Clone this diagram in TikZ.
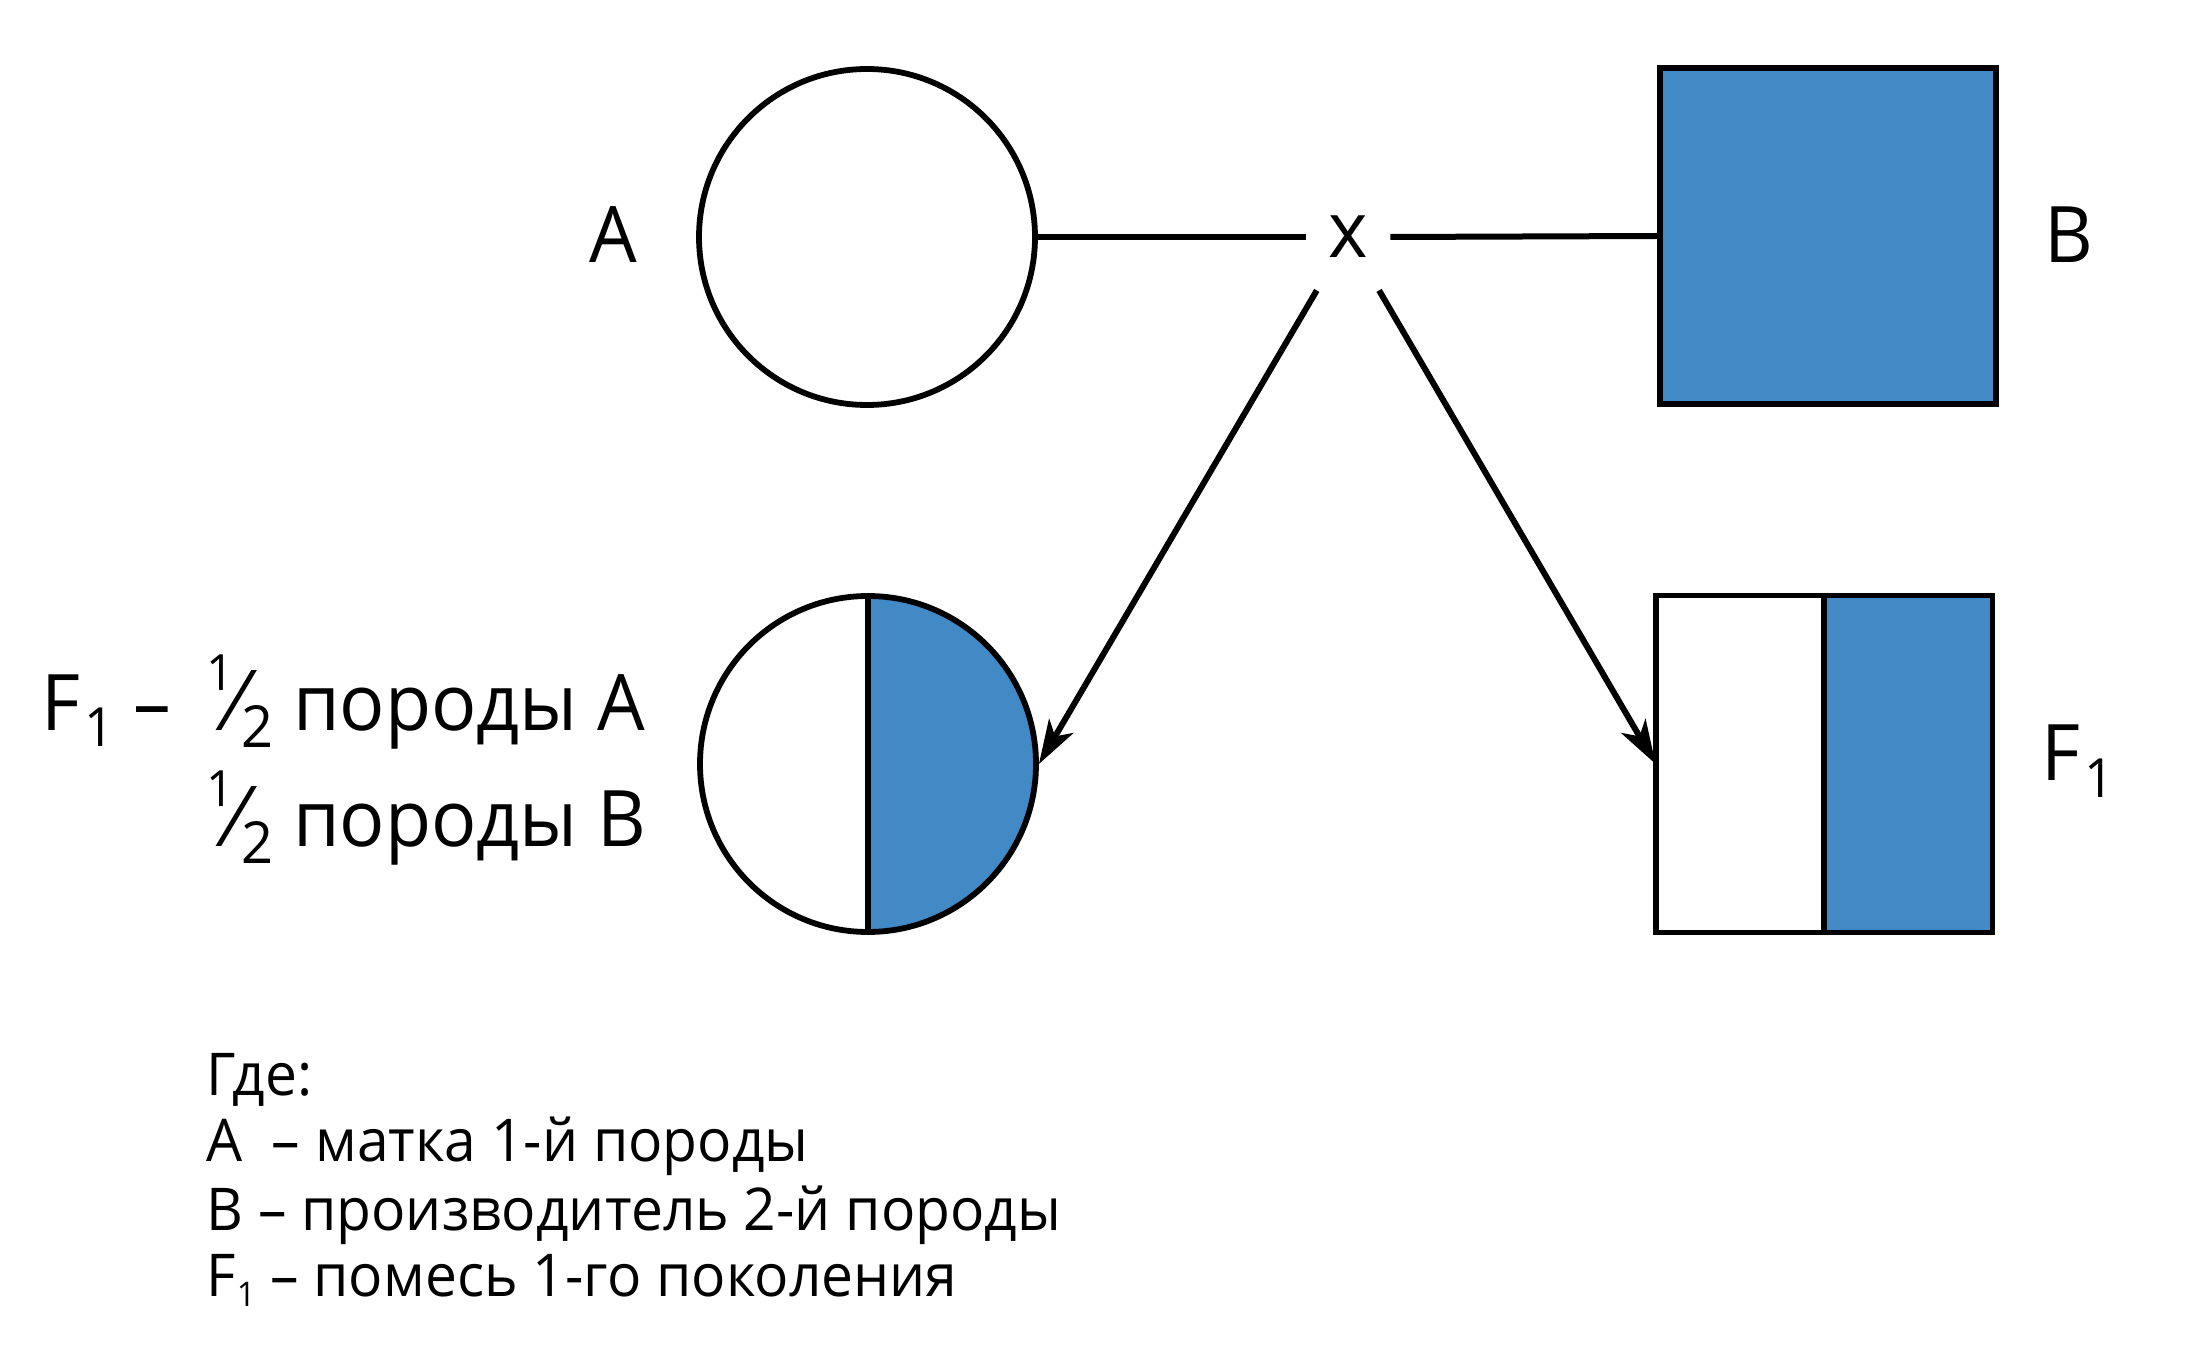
\documentclass[tikz,border=0pt]{standalone}
\usepackage{fontspec}
\setmainfont{Open Sans}[FakeStretch=0.965]
\usetikzlibrary{arrows.meta}
\definecolor{fillblue}{RGB}{66,138,198}
\newcommand\halfsym{\raisebox{20pt}{\fontsize{25}{25}\selectfont 1}\kern-1pt{\fontsize{42}{42}\selectfont ⁄}\kern-0.5pt\raisebox{-8.5pt}{\fontsize{29}{29}\selectfont 2}}
\newcommand\bigsub[1]{\kern2pt\raisebox{-8.5pt}{\fontsize{27}{27}\selectfont #1}}
\newcommand\smallsub[1]{\kern0.5pt\raisebox{-5pt}{\fontsize{17}{17}\selectfont #1}}
\begin{document}
\begin{tikzpicture}[x=0.5pt,y=-0.5pt,
  shape line/.style={draw=black,line width=2.9pt},
  roundbox/.style={circle,minimum size=168pt,inner sep=0pt},
  squarebox/.style={rectangle,minimum width=168pt,minimum height=168pt,inner sep=0pt},
  biglabel/.style={font=\fontsize{39}{44}\selectfont,inner sep=0pt},
  legendtext/.style={font=\fontsize{29.5}{34}\selectfont,inner sep=0pt,anchor=base west},
  connector/.style={line width=3pt},
  arrowline/.style={line width=3pt,-{Stealth[length=22pt,width=14pt,inset=6pt]}}]
\useasboundingbox (0,0) rectangle (2185,1352);

% parents
\node[roundbox,shape line] (A) at (867,237) {};
\node[squarebox,shape line,fill=fillblue] (B) at (1828,236) {};
\node[biglabel] (Alab) at (613,235) {А};
\node[biglabel] (Blab) at (2069,235) {В};

% cross sign
\node[rectangle,minimum width=42pt,minimum height=53pt,inner sep=0pt,font=\fontsize{39}{44}\selectfont] (X) at (1348,237) {x};

% F1 circle, half filled
\fill[fillblue] (868,764) ++(0,-168) arc[start angle=90,end angle=-90,radius=84pt] -- cycle;
\node[roundbox,shape line] (Fc) at (868,764) {};
\draw[shape line] (Fc.north) -- (Fc.south);

% F1 rectangle, half filled
\node[squarebox] (Fr) at (1824,764) {};
\fill[fillblue] (Fr.north) rectangle (Fr.south east);
\draw[shape line] (Fr.north west) rectangle (Fr.south east);
\draw[shape line] (Fr.north) -- (Fr.south);
\node[biglabel,anchor=base west] (Frlab) at (2041,780) {F\bigsub{1}};

% connectors
\draw[connector] (A.east) -- (X.west);
\draw[connector] (X.east) -- (B.west);
\draw[arrowline] (X) -- (Fc.east);
\draw[arrowline] (X) -- (Fr.west);

% left text
\node[biglabel,anchor=base west] (half1) at (206,730) {\halfsym\ породы А};
\node[biglabel,anchor=base east] (F1dash) at (172,730) {F\bigsub{1} –};
\node[biglabel,anchor=base west] (half2) at (206,846) {\halfsym\ породы В};

% legend
\node[legendtext] (L0) at (206,1095) {Где:};
\node[legendtext] (L1) at (206,1161) {А\ \ – матка 1-й породы};
\node[legendtext] (L2) at (206,1230) {В – производитель 2-й породы};
\node[legendtext] (L3) at (206,1296) {F\smallsub{1} – помесь 1-го поколения};
\end{tikzpicture}
\end{document}
